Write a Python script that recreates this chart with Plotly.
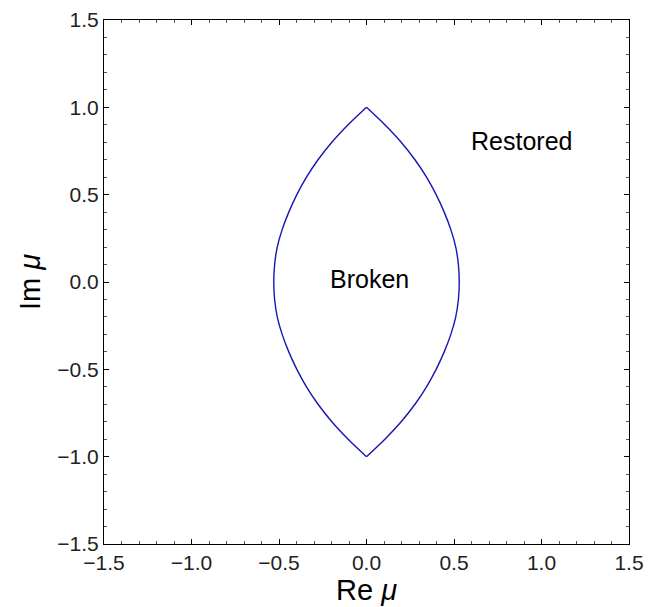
import plotly.graph_objects as go

# Boundary curve, upper-right quadrant (Im mu -> Re mu)
im_vals = [1.0, 0.9, 0.8, 0.7, 0.6, 0.5, 0.4, 0.3, 0.2, 0.1, 0.0]
re_vals = [0.0, 0.105, 0.198, 0.277, 0.343, 0.398, 0.444, 0.482, 0.510, 0.525, 0.530]

tick_vals = [-1.5, -1.0, -0.5, 0.0, 0.5, 1.0, 1.5]
tick_text = ["\u22121.5", "\u22121.0", "\u22120.5", "0.0", "0.5", "1.0", "1.5"]

region_labels = ["Broken", "Restored"]
label_x = [0.015, 0.885]
label_y = [0.02, 0.807]

# right branch top->bottom and left branch by symmetry
branch_y = im_vals + [-v for v in reversed(im_vals[:-1])]
branch_x = re_vals + list(reversed(re_vals[:-1]))

fig = go.Figure()
for sgn in (1, -1):
    fig.add_trace(go.Scatter(x=[sgn * v for v in branch_x], y=branch_y, mode="lines",
                             line=dict(color="#1616b4", width=1.4, shape="spline", smoothing=0.8),
                             hoverinfo="skip", showlegend=False))

for t, x, y in zip(region_labels, label_x, label_y):
    fig.add_annotation(x=x, y=y, text=t, showarrow=False,
                       font=dict(size=25, color="black"), xanchor="center", yanchor="middle")

axis_common = dict(
    range=[-1.5, 1.5], tickvals=tick_vals, ticktext=tick_text,
    ticks="inside", ticklen=5, tickwidth=1, tickcolor="black",
    showline=True, linecolor="black", linewidth=1, mirror="allticks",
    showgrid=False, zeroline=False, automargin=False,
    tickfont=dict(size=21, color="#222"),
    minor=dict(dtick=0.1, tick0=0, ticks="inside", ticklen=3, tickcolor="#555", tickwidth=1, showgrid=False),
)

fig.update_layout(
    width=650, height=599,
    margin=dict(l=96, r=29, t=12, b=63),
    paper_bgcolor="white", plot_bgcolor="white",
    font=dict(family="Liberation Sans, Arial, sans-serif", color="black"),
    xaxis=dict(**axis_common, title=dict(text="Re <i>\u03bc</i>", font=dict(size=29), standoff=2)),
    yaxis=dict(**axis_common, title=dict(text="Im <i>\u03bc</i>", font=dict(size=29), standoff=8)),
)

fig.write_html("out.html")
